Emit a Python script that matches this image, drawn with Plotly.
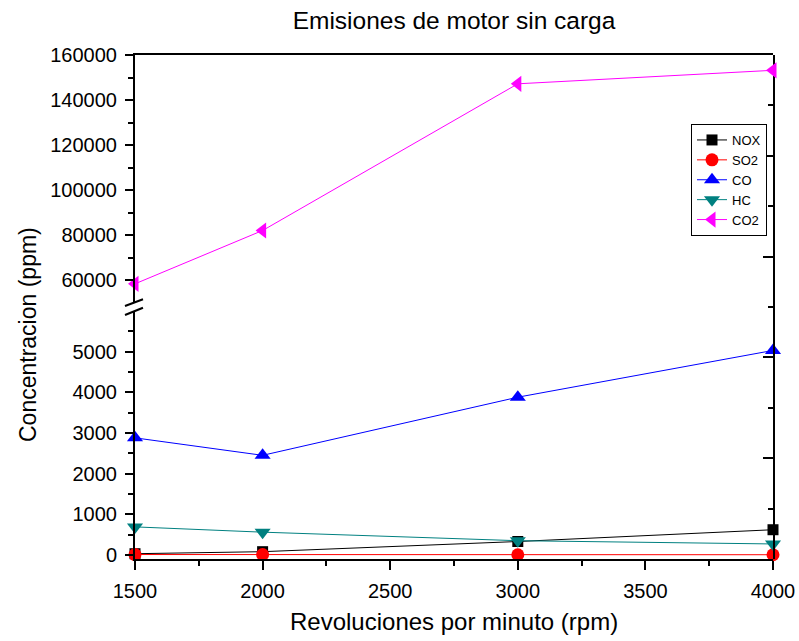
import plotly.graph_objects as go

# Engine speed and measured emissions
rpm = [1500, 2000, 3000, 4000]
nox = [30, 80, 330, 620]
so2 = [10, 10, 5, 5]
co = [2880, 2450, 3880, 5030]
hc = [690, 560, 350, 270]
co2 = [58300, 82000, 147200, 153200]

low_ticks = [0, 1000, 2000, 3000, 4000, 5000]
low_minor = [500, 1500, 2500, 3500, 4500, 5500]
high_ticks = [60000, 80000, 100000, 120000, 140000, 160000]
high_minor = [70000, 90000, 110000, 130000, 150000]

FONT = "Liberation Sans, Arial, sans-serif"

fig = go.Figure()

lower_series = [
    ("NOX", nox, "#000000", "square", 11),
    ("SO2", so2, "#FF0000", "circle", 13),
    ("CO", co, "#0000FF", "triangle-up", 14),
    ("HC", hc, "#008080", "triangle-down", 14),
]
for name, vals, color, sym, size in lower_series:
    fig.add_trace(go.Scatter(
        x=rpm, y=vals, name=name, mode="lines+markers",
        line=dict(color=color, width=1),
        marker=dict(symbol=sym, size=size, color=color),
        xaxis="x", yaxis="y", cliponaxis=False,
    ))

fig.add_trace(go.Scatter(
    x=rpm, y=co2, name="CO2", mode="lines+markers",
    line=dict(color="#FF00FF", width=1),
    marker=dict(symbol="triangle-left", size=14, color="#FF00FF"),
    xaxis="x2", yaxis="y2", cliponaxis=False,
))

# empty trace so the right-hand frame axis gets its own subplot
fig.add_trace(go.Scatter(x=[], y=[], xaxis="x", yaxis="y3",
                         showlegend=False, hoverinfo="skip"))

tick_font = dict(family=FONT, size=20, color="#000000")

xcommon = dict(
    range=[1500, 4000], showgrid=False, zeroline=False,
    showline=True, linecolor="#000000", linewidth=2,
)

fig.update_layout(
    width=799, height=641,
    margin=dict(l=135, r=26, t=55, b=82, autoexpand=False),
    paper_bgcolor="white", plot_bgcolor="rgba(0,0,0,0)",
    font=dict(family=FONT, color="#000000"),
    title=dict(text="Emisiones de motor sin carga", x=0.5, xref="paper",
               y=1 - 20 / 641, yref="container", yanchor="middle",
               xanchor="center", font=dict(family=FONT, size=24.5)),
    xaxis=dict(
        **xcommon, anchor="y", domain=[0, 1],
        tickmode="linear", tick0=1500, dtick=500,
        ticks="outside", ticklen=9, tickwidth=2, tickcolor="#000000",
        minor=dict(tickmode="linear", tick0=1500, dtick=250, ticks="outside",
                   ticklen=5, tickwidth=2, tickcolor="#000000"),
        tickfont=tick_font, ticklabelstandoff=4,
    ),
    xaxis2=dict(
        **xcommon, anchor="y2", matches="x", side="top", overlaying="x",
        showticklabels=False, ticks="",
    ),
    yaxis=dict(
        domain=[0, 248 / 504], range=[-100, 6000], anchor="x",
        showgrid=False, zeroline=False,
        showline=True, linecolor="#000000", linewidth=2,
        tickmode="array", tickvals=low_ticks, tickformat="d",
        ticks="outside", ticklen=8, tickwidth=2, tickcolor="#000000",
        minor=dict(tickmode="array", tickvals=low_minor, ticks="outside",
                   ticklen=5, tickwidth=2, tickcolor="#000000"),
        tickfont=tick_font, ticklabelstandoff=4,
    ),
    yaxis2=dict(
        domain=[257 / 504, 1], range=[50222, 160000], anchor="x2",
        showgrid=False, zeroline=False,
        showline=True, linecolor="#000000", linewidth=2,
        tickmode="array", tickvals=high_ticks, tickformat="d",
        ticks="outside", ticklen=8, tickwidth=2, tickcolor="#000000",
        minor=dict(tickmode="array", tickvals=high_minor, ticks="outside",
                   ticklen=5, tickwidth=2, tickcolor="#000000"),
        tickfont=tick_font, ticklabelstandoff=4,
    ),
    yaxis3=dict(
        domain=[0, 1], range=[0, 10], anchor="x", side="right",
        showgrid=False, zeroline=False, showticklabels=False,
        showline=True, linecolor="#000000", linewidth=2,
        tickmode="array", tickvals=[2, 4, 6, 8],
        ticks="inside", ticklen=10, tickwidth=2, tickcolor="#000000",
        minor=dict(tickmode="array", tickvals=[1, 3, 5, 7, 9], ticks="inside",
                   ticklen=5, tickwidth=2, tickcolor="#000000"),
    ),
    legend=dict(
        x=(691 - 135) / 638, y=(559 - 124) / 504, xanchor="left", yanchor="top",
        bgcolor="white", bordercolor="#000000", borderwidth=1,
        font=dict(family=FONT, size=13, color="#000000"),
        tracegroupgap=0, itemwidth=30,
    ),
    showlegend=True,
)

# axis titles
fig.add_annotation(text="Revoluciones por minuto (rpm)", xref="paper", yref="paper",
                   x=0.5, y=(559 - 621) / 504, xanchor="center", yanchor="middle",
                   showarrow=False, font=dict(family=FONT, size=24))
fig.add_annotation(text="Concentracion (ppm)", xref="paper", yref="paper",
                   x=(28 - 135) / 638, y=(559 - 335) / 504, textangle=-90,
                   xanchor="center", yanchor="middle",
                   showarrow=False, font=dict(family=FONT, size=23))

# axis-break marks on the left axis
for y0, y1 in [(306, 299.3), (315, 307.7)]:
    fig.add_shape(type="line", xref="paper", yref="paper",
                  x0=(125 - 135) / 638, x1=(143 - 135) / 638,
                  y0=(559 - y0) / 504, y1=(559 - y1) / 504,
                  line=dict(color="#000000", width=2))

fig.write_html("out.html")
